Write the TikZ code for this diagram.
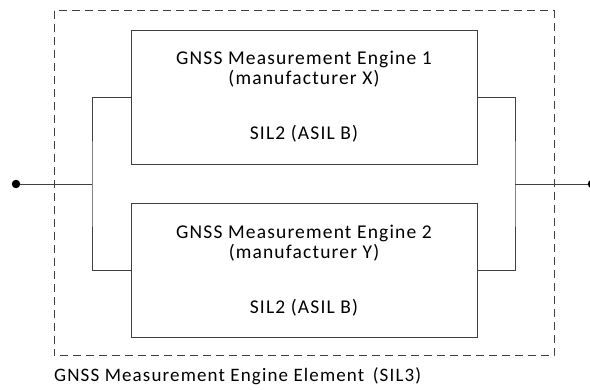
\documentclass[tikz,border=0pt]{standalone}
\usepackage{fontspec}
\setmainfont{Carlito}[LetterSpace=6]
\tikzset{
  engine/.style={draw=black!75, line width=0.9pt, minimum width=346pt, minimum height=134pt, inner sep=0pt},
  etext/.style={anchor=base, font=\fontsize{19.5}{20.5}\selectfont, text=black, inner sep=0pt},
  wire/.style={draw=black!75, line width=0.9pt},
  element/.style={draw=black!75, line width=1pt, dash pattern=on 8pt off 5pt},
  term/.style={circle, fill=black, inner sep=0pt, minimum size=8.5pt},
}
\begin{document}
\begin{tikzpicture}[x=1pt, y=-1pt]
  \useasboundingbox (0,0) rectangle (590,390);
  % dashed element boundary and its caption
  \draw[element] (54,11) rectangle (554,356);
  \node[anchor=base west, font=\fontsize{19}{20}\selectfont, inner sep=0pt, text=black] (cap) at (54,382)
    {GNSS Measurement Engine Element\hspace{0.45em}(SIL3)};
  % the two redundant engines
  \node[engine] (e1) at (304,97) {};
  \node[engine] (e2) at (304,270) {};
  \node[etext] (t1a) at ([yshift=-35pt]e1.north) {GNSS Measurement Engine 1};
  \node[etext] (t1b) at ([yshift=-55pt]e1.north) {(manufacturer X)};
  \node[etext] (t1c) at ([yshift=-110pt]e1.north) {SIL2 (ASIL B)};
  \node[etext] (t2a) at ([yshift=-36pt]e2.north) {GNSS Measurement Engine 2};
  \node[etext] (t2b) at ([yshift=-56pt]e2.north) {(manufacturer Y)};
  \node[etext] (t2c) at ([yshift=-111pt]e2.north) {SIL2 (ASIL B)};
  % terminals and bus junctions
  \node[term] (in) at (16,184) {};
  \node[term] (out) at (592,184) {};
  \coordinate (jL) at (92,184);
  \coordinate (jR) at (515,184);
  % wiring
  \draw[wire] (in) -- (jL);
  \draw[wire] (e1.west) -| (jL) |- (e2.west);
  \draw[wire] (jR) -- (out);
  \draw[wire] (e1.east) -| (jR) |- (e2.east);
\end{tikzpicture}
\end{document}
